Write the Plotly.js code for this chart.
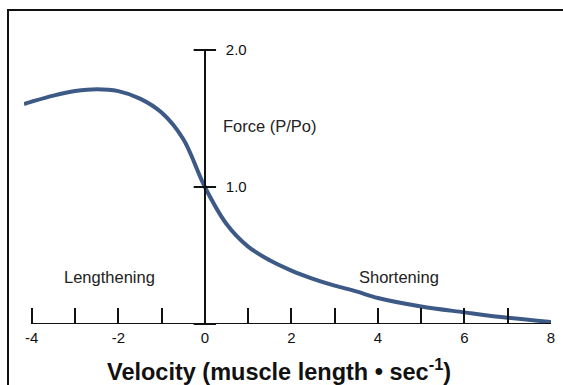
<!DOCTYPE html>
<html>
<head>
<meta charset="utf-8">
<script src="https://cdn.plot.ly/plotly-3.0.1.min.js"></script>
<style>
html,body{margin:0;padding:0;background:#fff;}
#wrap{position:relative;width:563px;height:385px;overflow:hidden;}
#frame{position:absolute;left:7px;top:9px;width:600px;height:400px;border-left:2px solid #111;border-top:2px solid #111;pointer-events:none;z-index:5;}
#chart{position:absolute;left:0;top:0;width:563px;height:385px;}
</style>
</head>
<body>
<div id="wrap"><div id="chart"></div><div id="frame"></div></div>
<script>
// Data
const velocity = [-4.18, -4, -3.5, -3, -2.5, -2, -1.5, -1, -0.5, 0, 0.5, 1, 1.5, 2, 2.5, 3, 3.5, 4, 5, 6, 7, 8];
const force    = [1.606, 1.623, 1.667, 1.70, 1.714, 1.70, 1.645, 1.543, 1.35, 1.0, 0.73, 0.565, 0.465, 0.39, 0.33, 0.28, 0.238, 0.19, 0.128, 0.085, 0.045, 0.015];
const xTickVals = [-4, -3, -2, -1, 0, 1, 2, 3, 4, 5, 6, 7, 8];
const xTickText = ['-4', ' ', '-2', ' ', '0', ' ', '2', ' ', '4', ' ', '6', ' ', '8'];
const yTickVals = [0, 1, 2];
const yTickText = [' ', '1.0', '2.0'];
const regionLabels = ['Lengthening', 'Shortening'];
const regionX = [-2.2, 4.48];
const regionY = [0.343, 0.343];
const yAxisLabel = 'Force (P/Po)';
const xAxisLabel = 'Velocity (muscle length \u2022 sec<sup>-1</sup>)';

const xRange = [-4.18, 8];
const yRange = [0, 2];
const font = 'Liberation Sans, Arial, Helvetica, sans-serif';
const ink = '#111';

const traces = [
  {
    x: velocity, y: force, mode: 'lines', type: 'scatter',
    line: {color: '#3d5a86', width: 4, shape: 'spline', smoothing: 1},
    hoverinfo: 'skip', showlegend: false
  },
  {
    x: yTickVals.map(() => 0), y: yTickVals, mode: 'markers', type: 'scatter',
    marker: {symbol: 'line-ew', size: 16, line: {color: ink, width: 2}},
    cliponaxis: false, hoverinfo: 'skip', showlegend: false
  }
];

const annotations = regionLabels.map((t, i) => ({
  x: regionX[i], y: regionY[i], xref: 'x', yref: 'y', text: t, showarrow: false,
  font: {family: font, size: 16.5, color: '#222'}, xanchor: 'center', yanchor: 'middle'
}));
annotations.push({
  x: 0, y: 1.445, xref: 'x', yref: 'y', text: yAxisLabel, showarrow: false, xshift: 16,
  font: {family: font, size: 16.5, color: '#222'}, xanchor: 'left', yanchor: 'middle'
});
annotations.push({
  x: 0.4835, y: -0.175, xref: 'paper', yref: 'paper', text: xAxisLabel, showarrow: false, yshift: 2,
  font: {family: font, size: 23.5, color: '#111', weight: 'bold'}, xanchor: 'center', yanchor: 'middle'
});

const layout = {
  width: 563, height: 385,
  margin: {l: 24, r: 12, t: 50, b: 61},
  paper_bgcolor: '#fff', plot_bgcolor: '#fff',
  showlegend: false,
  xaxis: {
    range: xRange, showgrid: false, zeroline: false, showline: false,
    tickvals: xTickVals, ticktext: xTickText, ticks: 'inside', ticklen: 16, tickwidth: 2, tickcolor: ink,
    ticklabelstandoff: 3,
    tickfont: {family: font, size: 15, color: ink}, fixedrange: true
  },
  yaxis: {
    range: yRange, showgrid: false, zeroline: false, showline: true, linewidth: 2, linecolor: ink,
    anchor: 'free', position: (0 - xRange[0]) / (xRange[1] - xRange[0]), side: 'right',
    tickvals: yTickVals, ticktext: yTickText, ticks: '', ticklabelstandoff: 17,
    tickfont: {family: font, size: 15, color: ink}, fixedrange: true
  },
  shapes: [{
    type: 'line', xref: 'x', yref: 'y',
    x0: xTickVals[0], x1: xTickVals[xTickVals.length - 1], y0: yRange[0], y1: yRange[0],
    line: {color: ink, width: 2}, layer: 'above'
  }],
  annotations: annotations
};

Plotly.newPlot('chart', traces, layout, {displayModeBar: false, staticPlot: true});
</script>
</body>
</html>
